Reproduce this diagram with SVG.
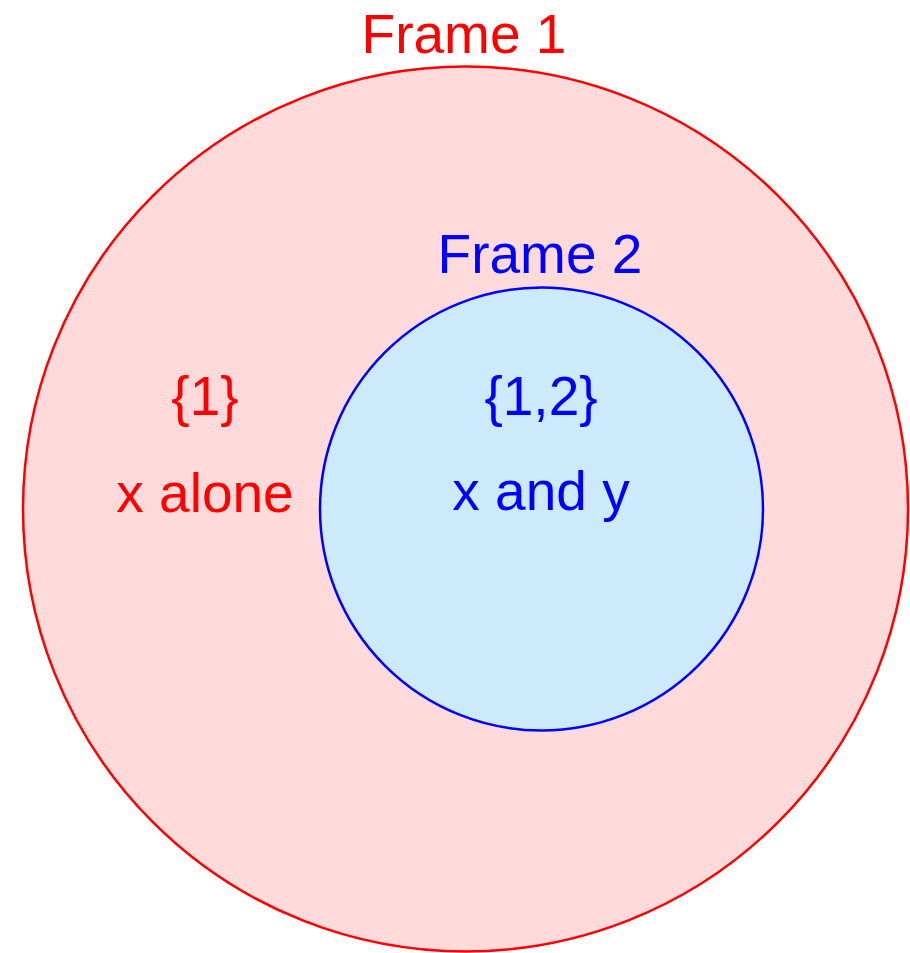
<svg xmlns="http://www.w3.org/2000/svg" width="910" height="953" viewBox="0 0 910 953">
<style>
text{font-family:"Liberation Sans",Arial,sans-serif;font-size:55px;text-anchor:middle}
.r{fill:#ff0000}
.b{fill:#0000ff}
</style>
<rect width="910" height="953" fill="#ffffff"/>
<g id="frame1">
<circle cx="465.5" cy="509" r="442.5" fill="#ffdada" stroke="#ff0000" stroke-width="2.5"/>
<text class="r" x="464" y="53">Frame 1</text>
<text class="r" x="205" y="415">{1}</text>
<text class="r" x="205" y="512">x alone</text>
</g>
<g id="frame2">
<circle cx="541.5" cy="509" r="221.5" fill="#cdeafd" stroke="#0000ff" stroke-width="2.5"/>
<text class="b" x="540" y="273">Frame 2</text>
<text class="b" x="541" y="415">{1,2}</text>
<text class="b" x="541" y="510">x and y</text>
</g>
<g id="connectors"/>
</svg>
